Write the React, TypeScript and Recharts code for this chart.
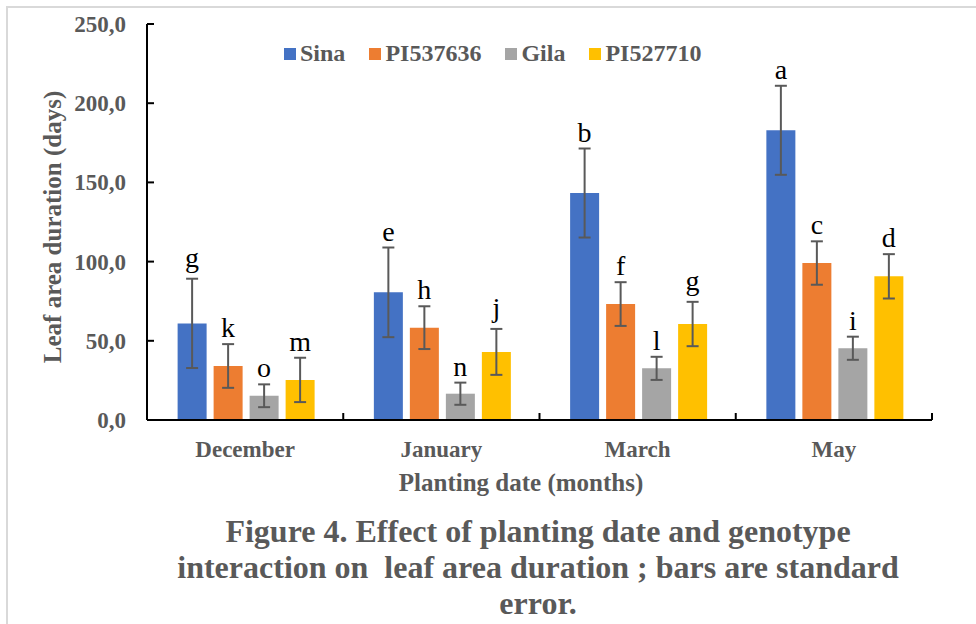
import React from 'react';
import { BarChart, Bar, XAxis, YAxis, ErrorBar, LabelList, Legend } from 'recharts';

const categories = ['December', 'January', 'March', 'May'];
const sina = [61.0, 80.6, 143.3, 182.9];
const sinaErr = [28.2, 28.3, 28.1, 28.1];
const pi537636 = [34.1, 58.3, 73.2, 99.1];
const pi537636Err = [13.8, 13.5, 13.8, 13.7];
const gila = [15.3, 16.6, 32.6, 45.3];
const gilaErr = [7.2, 7.0, 7.3, 7.3];
const pi527710 = [25.3, 43.0, 60.6, 90.7];
const pi527710Err = [14.0, 14.5, 14.0, 14.0];
const sinaLetters = ['g', 'e', 'b', 'a'];
const pi537636Letters = ['k', 'h', 'f', 'c'];
const gilaLetters = ['o', 'n', 'l', 'i'];
const pi527710Letters = ['m', 'j', 'g', 'd'];
const yTicks = [0, 50, 100, 150, 200, 250];
const seriesNames = ['Sina', 'PI537636', 'Gila', 'PI527710'];
const seriesColors = ['#4472C4', '#ED7D31', '#A5A5A5', '#FFC000'];
const yTitle = 'Leaf area duration (days)';
const xTitle = 'Planting date (months)';
const captionLines = [
  'Figure 4. Effect of planting date and genotype',
  'interaction on  leaf area duration ; bars are standard',
  'error.',
];

const data = categories.map((c, i) => ({
  month: c,
  Sina: sina[i],
  SinaErr: sinaErr[i],
  PI537636: pi537636[i],
  PI537636Err: pi537636Err[i],
  Gila: gila[i],
  GilaErr: gilaErr[i],
  PI527710: pi527710[i],
  PI527710Err: pi527710Err[i],
}));

const SERIF = '"Liberation Serif", "Times New Roman", serif';
const GRAY = '#595959';

const makeLetter = (letters: string[], vals: number[], errs: number[]) => (p: any) => {
  const i = p.index;
  const v = vals[i];
  if (!v) return null;
  const pxPerUnit = Math.abs(p.height) / v;
  const top = p.y - errs[i] * pxPerUnit;
  const desc = /[gjpqy]/.test(letters[i]) ? 5 : 0;
  return (
    <text
      key={`l-${i}`}
      x={p.x + p.width / 2}
      y={top - 7 - desc}
      textAnchor="middle"
      fontFamily={SERIF}
      fontSize={28}
      fill="#000"
    >
      {letters[i]}
    </text>
  );
};

const YTick = (props: any) => {
  const { x, y, payload } = props;
  const label = Number(payload.value).toFixed(1).replace('.', ',');
  return (
    <g>
      <text x={x} y={y + 8} textAnchor="end" fontFamily={SERIF} fontWeight="bold" fontSize={23} fill={GRAY}>
        {label}
      </text>
      <line x1={x + 21} x2={x + 28} y1={y} y2={y} stroke="#000" strokeWidth={2} />
    </g>
  );
};

const XTick = (props: any) => {
  const { x, y, payload, width, visibleTicksCount } = props;
  const band = (width || 785) / (visibleTicksCount || 4);
  const bx = x + band / 2;
  return (
    <g>
      <text x={x} y={y + 37} textAnchor="middle" fontFamily={SERIF} fontWeight="bold" fontSize={23} fill={GRAY}>
        {payload.value}
      </text>
      <line x1={bx} x2={bx} y1={y} y2={y - 7} stroke="#000" strokeWidth={2} />
    </g>
  );
};

const LegendContent = () => (
  <div style={{ display: 'flex', alignItems: 'center', fontFamily: SERIF, fontWeight: 'bold', fontSize: 24, color: GRAY }}>
    {seriesNames.map((n, i) => (
      <div key={n} style={{ display: 'flex', alignItems: 'center', marginRight: 24 }}>
        <span style={{ display: 'inline-block', width: 12, height: 12, background: seriesColors[i], marginRight: 4 }} />
        <span style={{ fontFamily: SERIF }}>{n}</span>
      </div>
    ))}
  </div>
);

const letterSets = [sinaLetters, pi537636Letters, gilaLetters, pi527710Letters];
const valueSets = [sina, pi537636, gila, pi527710];
const errSets = [sinaErr, pi537636Err, gilaErr, pi527710Err];

export default function App() {
  return (
    <div style={{ position: 'absolute', left: 0, top: 0, width: 976, height: 624, background: '#fff', overflow: 'hidden' }}>
      <div
        style={{
          position: 'absolute',
          left: 6,
          top: 6,
          width: 980,
          height: 630,
          borderTop: '2px solid #d9d9d9',
          borderLeft: '2px solid #d9d9d9',
        }}
      />
      <div style={{ position: 'absolute', left: 0, top: 0 }}>
        <BarChart
          width={976}
          height={624}
          data={data}
          margin={{ top: 24, right: 44, left: 67, bottom: 174 }}
          barGap={7}
          barCategoryGap="15.6%"
        >
          <XAxis
            dataKey="month"
            height={30}
            axisLine={{ stroke: '#000', strokeWidth: 2 }}
            tickLine={false}
            tickSize={0}
            tickMargin={0}
            tick={<XTick />}
            interval={0}
          />
          <YAxis
            width={80}
            domain={[0, 250]}
            ticks={yTicks}
            axisLine={{ stroke: '#000', strokeWidth: 2 }}
            tickLine={false}
            tickSize={0}
            tickMargin={21}
            tick={<YTick />}
            interval={0}
          />
          <Legend
            verticalAlign="middle"
            align="center"
            layout="horizontal"
            content={<LegendContent />}
            wrapperStyle={{ position: 'absolute', top: 40, left: 284, width: 'auto' }}
          />
          {seriesNames.map((n, si) => (
            <Bar key={n} dataKey={n} fill={seriesColors[si]} isAnimationActive={false}>
              <ErrorBar dataKey={`${n}Err`} width={6} stroke="#595959" strokeWidth={2} direction="y" />
              <LabelList dataKey={n} content={makeLetter(letterSets[si], valueSets[si], errSets[si])} />
            </Bar>
          ))}
        </BarChart>
      </div>
      <svg width={976} height={624} style={{ position: 'absolute', left: 0, top: 0, pointerEvents: 'none' }}>
        <text
          transform="translate(61,227) rotate(-90)"
          textAnchor="middle"
          fontFamily={SERIF}
          fontWeight="bold"
          fontSize={25}
          fill={GRAY}
        >
          {yTitle}
        </text>
        <text x={521} y={491} textAnchor="middle" fontFamily={SERIF} fontWeight="bold" fontSize={25} fill={GRAY}>
          {xTitle}
        </text>
        {captionLines.map((l, i) => (
          <text
            key={i}
            x={538}
            y={542 + i * 36}
            textAnchor="middle"
            fontFamily={SERIF}
            fontWeight="bold"
            fontSize={32}
            fill={GRAY}
            style={{ whiteSpace: 'pre' }}
          >
            {l}
          </text>
        ))}
      </svg>
    </div>
  );
}
